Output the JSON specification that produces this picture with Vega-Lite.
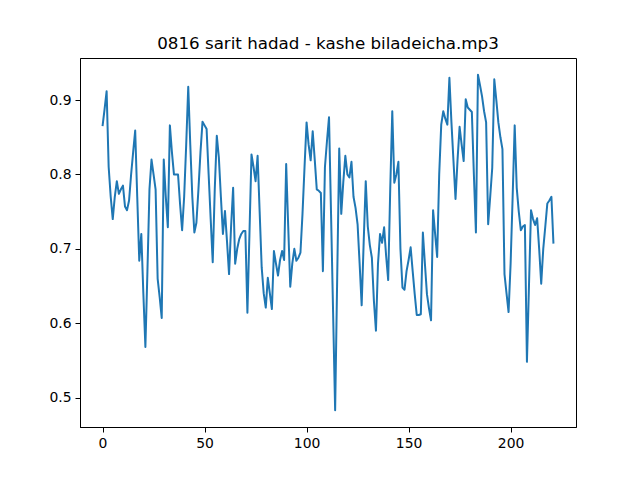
{
  "$schema": "https://vega.github.io/schema/vega-lite/v6.json",
  "autosize": {"type": "none"},
  "width": 496,
  "height": 369,
  "padding": {"left": 80, "top": 58, "right": 64, "bottom": 53},
  "background": "white",
  "title": {
    "text": "0816 sarit hadad - kashe biladeicha.mp3",
    "font": "DejaVu Sans",
    "fontSize": 16.7,
    "fontWeight": "normal",
    "color": "black",
    "anchor": "middle",
    "baseline": "alphabetic",
    "offset": -8
  },
  "data": {
    "values": [
      {"i": 0, "v": 0.865}, {"i": 1, "v": 0.888}, {"i": 2, "v": 0.912}, {"i": 3, "v": 0.81}, {"i": 4, "v": 0.77},
      {"i": 5, "v": 0.74}, {"i": 6, "v": 0.77}, {"i": 7, "v": 0.791}, {"i": 8, "v": 0.774}, {"i": 9, "v": 0.78},
      {"i": 10, "v": 0.785}, {"i": 11, "v": 0.757}, {"i": 12, "v": 0.752}, {"i": 13, "v": 0.765}, {"i": 14, "v": 0.8},
      {"i": 15, "v": 0.83}, {"i": 16, "v": 0.859}, {"i": 17, "v": 0.77}, {"i": 18, "v": 0.684}, {"i": 19, "v": 0.72},
      {"i": 20, "v": 0.64}, {"i": 21, "v": 0.568}, {"i": 22, "v": 0.67}, {"i": 23, "v": 0.78}, {"i": 24, "v": 0.82},
      {"i": 25, "v": 0.8}, {"i": 26, "v": 0.78}, {"i": 27, "v": 0.66}, {"i": 28, "v": 0.635}, {"i": 29, "v": 0.607},
      {"i": 30, "v": 0.82}, {"i": 31, "v": 0.77}, {"i": 32, "v": 0.729}, {"i": 33, "v": 0.866}, {"i": 34, "v": 0.83},
      {"i": 35, "v": 0.8}, {"i": 36, "v": 0.8}, {"i": 37, "v": 0.8}, {"i": 38, "v": 0.76}, {"i": 39, "v": 0.725},
      {"i": 40, "v": 0.77}, {"i": 41, "v": 0.84}, {"i": 42, "v": 0.918}, {"i": 43, "v": 0.84}, {"i": 44, "v": 0.77},
      {"i": 45, "v": 0.722}, {"i": 46, "v": 0.735}, {"i": 47, "v": 0.78}, {"i": 48, "v": 0.83}, {"i": 49, "v": 0.871},
      {"i": 50, "v": 0.866}, {"i": 51, "v": 0.861}, {"i": 52, "v": 0.8}, {"i": 53, "v": 0.74}, {"i": 54, "v": 0.682},
      {"i": 55, "v": 0.78}, {"i": 56, "v": 0.852}, {"i": 57, "v": 0.823}, {"i": 58, "v": 0.77}, {"i": 59, "v": 0.72},
      {"i": 60, "v": 0.751}, {"i": 61, "v": 0.71}, {"i": 62, "v": 0.666}, {"i": 63, "v": 0.73}, {"i": 64, "v": 0.782},
      {"i": 65, "v": 0.68}, {"i": 66, "v": 0.7}, {"i": 67, "v": 0.713}, {"i": 68, "v": 0.72}, {"i": 69, "v": 0.724},
      {"i": 70, "v": 0.724}, {"i": 71, "v": 0.614}, {"i": 72, "v": 0.72}, {"i": 73, "v": 0.827}, {"i": 74, "v": 0.81},
      {"i": 75, "v": 0.791}, {"i": 76, "v": 0.825}, {"i": 77, "v": 0.75}, {"i": 78, "v": 0.675}, {"i": 79, "v": 0.64},
      {"i": 80, "v": 0.621}, {"i": 81, "v": 0.661}, {"i": 82, "v": 0.64}, {"i": 83, "v": 0.619}, {"i": 84, "v": 0.697},
      {"i": 85, "v": 0.68}, {"i": 86, "v": 0.664}, {"i": 87, "v": 0.685}, {"i": 88, "v": 0.697}, {"i": 89, "v": 0.685},
      {"i": 90, "v": 0.814}, {"i": 91, "v": 0.73}, {"i": 92, "v": 0.649}, {"i": 93, "v": 0.68}, {"i": 94, "v": 0.7},
      {"i": 95, "v": 0.684}, {"i": 96, "v": 0.688}, {"i": 97, "v": 0.695}, {"i": 98, "v": 0.747}, {"i": 99, "v": 0.81},
      {"i": 100, "v": 0.87}, {"i": 101, "v": 0.84}, {"i": 102, "v": 0.819}, {"i": 103, "v": 0.858}, {"i": 104, "v": 0.82},
      {"i": 105, "v": 0.78}, {"i": 106, "v": 0.778}, {"i": 107, "v": 0.775}, {"i": 108, "v": 0.67}, {"i": 109, "v": 0.81},
      {"i": 110, "v": 0.845}, {"i": 111, "v": 0.877}, {"i": 112, "v": 0.746}, {"i": 113, "v": 0.614}, {"i": 114, "v": 0.483},
      {"i": 115, "v": 0.66}, {"i": 116, "v": 0.835}, {"i": 117, "v": 0.747}, {"i": 118, "v": 0.79}, {"i": 119, "v": 0.825},
      {"i": 120, "v": 0.8}, {"i": 121, "v": 0.796}, {"i": 122, "v": 0.817}, {"i": 123, "v": 0.77}, {"i": 124, "v": 0.755},
      {"i": 125, "v": 0.733}, {"i": 126, "v": 0.68}, {"i": 127, "v": 0.624}, {"i": 128, "v": 0.71}, {"i": 129, "v": 0.791},
      {"i": 130, "v": 0.73}, {"i": 131, "v": 0.705}, {"i": 132, "v": 0.688}, {"i": 133, "v": 0.63}, {"i": 134, "v": 0.59},
      {"i": 135, "v": 0.68}, {"i": 136, "v": 0.72}, {"i": 137, "v": 0.708}, {"i": 138, "v": 0.729}, {"i": 139, "v": 0.69},
      {"i": 140, "v": 0.658}, {"i": 141, "v": 0.78}, {"i": 142, "v": 0.885}, {"i": 143, "v": 0.789}, {"i": 144, "v": 0.8},
      {"i": 145, "v": 0.817}, {"i": 146, "v": 0.7}, {"i": 147, "v": 0.648}, {"i": 148, "v": 0.645}, {"i": 149, "v": 0.67},
      {"i": 150, "v": 0.685}, {"i": 151, "v": 0.702}, {"i": 152, "v": 0.67}, {"i": 153, "v": 0.639}, {"i": 154, "v": 0.611},
      {"i": 155, "v": 0.611}, {"i": 156, "v": 0.612}, {"i": 157, "v": 0.722}, {"i": 158, "v": 0.68}, {"i": 159, "v": 0.639},
      {"i": 160, "v": 0.62}, {"i": 161, "v": 0.604}, {"i": 162, "v": 0.752}, {"i": 163, "v": 0.72}, {"i": 164, "v": 0.689},
      {"i": 165, "v": 0.8}, {"i": 166, "v": 0.867}, {"i": 167, "v": 0.885}, {"i": 168, "v": 0.875}, {"i": 169, "v": 0.867},
      {"i": 170, "v": 0.93}, {"i": 171, "v": 0.87}, {"i": 172, "v": 0.818}, {"i": 173, "v": 0.767}, {"i": 174, "v": 0.82},
      {"i": 175, "v": 0.864}, {"i": 176, "v": 0.84}, {"i": 177, "v": 0.818}, {"i": 178, "v": 0.901}, {"i": 179, "v": 0.89},
      {"i": 180, "v": 0.887}, {"i": 181, "v": 0.884}, {"i": 182, "v": 0.8}, {"i": 183, "v": 0.722}, {"i": 184, "v": 0.934},
      {"i": 185, "v": 0.92}, {"i": 186, "v": 0.905}, {"i": 187, "v": 0.885}, {"i": 188, "v": 0.87}, {"i": 189, "v": 0.733},
      {"i": 190, "v": 0.77}, {"i": 191, "v": 0.809}, {"i": 192, "v": 0.928}, {"i": 193, "v": 0.9}, {"i": 194, "v": 0.87},
      {"i": 195, "v": 0.85}, {"i": 196, "v": 0.834}, {"i": 197, "v": 0.666}, {"i": 198, "v": 0.64}, {"i": 199, "v": 0.615},
      {"i": 200, "v": 0.68}, {"i": 201, "v": 0.77}, {"i": 202, "v": 0.866}, {"i": 203, "v": 0.782}, {"i": 204, "v": 0.75},
      {"i": 205, "v": 0.725}, {"i": 206, "v": 0.73}, {"i": 207, "v": 0.732}, {"i": 208, "v": 0.548}, {"i": 209, "v": 0.65},
      {"i": 210, "v": 0.752}, {"i": 211, "v": 0.74}, {"i": 212, "v": 0.732}, {"i": 213, "v": 0.741}, {"i": 214, "v": 0.7},
      {"i": 215, "v": 0.653}, {"i": 216, "v": 0.7}, {"i": 217, "v": 0.73}, {"i": 218, "v": 0.761}, {"i": 219, "v": 0.765},
      {"i": 220, "v": 0.77}, {"i": 221, "v": 0.707}
    ]
  },
  "mark": {"type": "line", "color": "#1f77b4", "strokeWidth": 2, "strokeJoin": "round", "strokeCap": "butt", "clip": true},
  "encoding": {
    "x": {
      "field": "i",
      "type": "quantitative",
      "scale": {"domain": [-11.05, 232.05], "nice": false, "zero": false},
      "axis": {"values": [0, 50, 100, 150, 200], "title": null}
    },
    "y": {
      "field": "v",
      "type": "quantitative",
      "scale": {"domain": [0.4604, 0.9566], "nice": false, "zero": false},
      "axis": {"values": [0.5, 0.6, 0.7, 0.8, 0.9], "format": ".1f", "title": null}
    }
  },
  "config": {
    "font": "DejaVu Sans",
    "view": {"stroke": "black", "strokeWidth": 1},
    "axis": {
      "grid": false,
      "domain": true,
      "domainColor": "black",
      "domainWidth": 1,
      "ticks": true,
      "tickColor": "black",
      "tickWidth": 1,
      "tickSize": 5,
      "labelFont": "DejaVu Sans",
      "labelFontSize": 13.9,
      "labelColor": "black",
      "labelPadding": 4,
      "labelFlush": false
    }
  }
}
